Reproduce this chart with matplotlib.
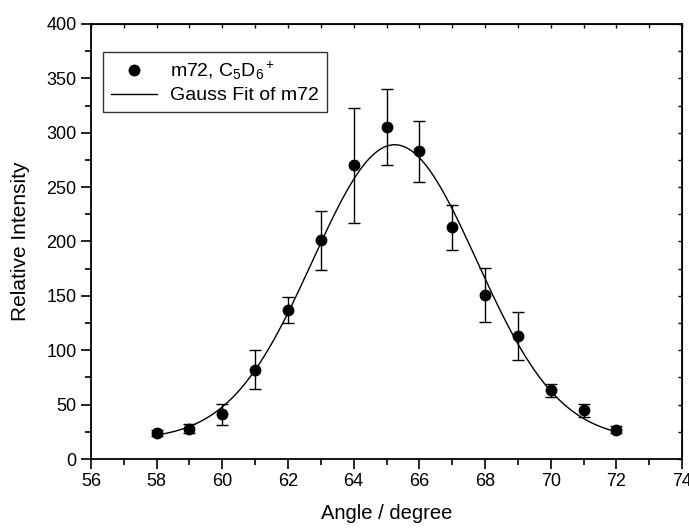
import numpy as np
import matplotlib
matplotlib.use("Agg")
import matplotlib.pyplot as plt
from matplotlib.ticker import MultipleLocator

plt.rcParams['font.family'] = ['Liberation Sans', 'DejaVu Sans']
plt.rcParams['mathtext.fontset'] = 'custom'
plt.rcParams['mathtext.rm'] = 'Liberation Sans'
plt.rcParams['mathtext.it'] = 'Liberation Sans'

# measured points
angle = [58, 59, 60, 61, 62, 63, 64, 65, 66, 67, 68, 69, 70, 71, 72]
intensity = [24, 28, 41, 82, 137, 201, 270, 305, 283, 213, 151, 113, 63, 45, 27]
err = [3, 4, 10, 18, 12, 27, 53, 35, 28, 21, 25, 22, 6, 6, 3]

# gauss fit parameters (y0, amplitude, center, sigma)
y0 = 18
amp = 271
xc = 65.25
sigma = 2.5


def main():
    fig = plt.figure(figsize=(6.89, 5.29), dpi=100)
    ax = fig.add_axes([91 / 689, 70 / 529, 591 / 689, 435 / 529])

    xf = np.linspace(58, 72, 300)
    yf = y0 + amp * np.exp(-(xf - xc) ** 2 / (2 * sigma ** 2))

    eb = ax.errorbar(angle, intensity, yerr=err, fmt='o', color='black', ms=7.5,
                     elinewidth=1, capsize=4, capthick=1, ecolor='black', zorder=3)
    fit, = ax.plot(xf, yf, color='black', lw=1, zorder=2)

    ax.set_xlim(56, 74)
    ax.set_ylim(0, 400)
    ax.xaxis.set_major_locator(MultipleLocator(2))
    ax.xaxis.set_minor_locator(MultipleLocator(1))
    ax.yaxis.set_major_locator(MultipleLocator(50))
    ax.yaxis.set_minor_locator(MultipleLocator(25))
    ax.tick_params(which='major', direction='out', length=7, width=1.2, labelsize=13)
    ax.tick_params(which='minor', direction='out', length=4, width=1.2)
    ax.tick_params(axis='x', pad=3)
    for s in ax.spines.values():
        s.set_linewidth(1.3)

    # inward ticks on the opposite axes
    top = ax.secondary_xaxis('top')
    top.xaxis.set_major_locator(MultipleLocator(2))
    top.xaxis.set_minor_locator(MultipleLocator(1))
    top.tick_params(which='both', direction='in', length=3, width=1, labeltop=False)
    right = ax.secondary_yaxis('right')
    right.yaxis.set_major_locator(MultipleLocator(50))
    right.yaxis.set_minor_locator(MultipleLocator(25))
    right.tick_params(which='both', direction='in', length=3, width=1, labelright=False)

    ax.set_xlabel('Angle / degree', fontsize=14.5, labelpad=10)
    ax.set_ylabel('Relative Intensity', fontsize=15, labelpad=12)

    leg = ax.legend([eb[0], fit], [r'm72, C$_5$D$_6$$^+$', 'Gauss Fit of m72'],
                    loc='upper left', bbox_to_anchor=(0.02, 0.936), fontsize=14,
                    frameon=True, fancybox=False, edgecolor='black',
                    handlelength=2.4, handletextpad=0.65, borderpad=0.4,
                    labelspacing=0.25, borderaxespad=0)
    leg.get_frame().set_linewidth(1)

    fig.savefig('out.png', dpi=100)


if __name__ == '__main__':
    main()
